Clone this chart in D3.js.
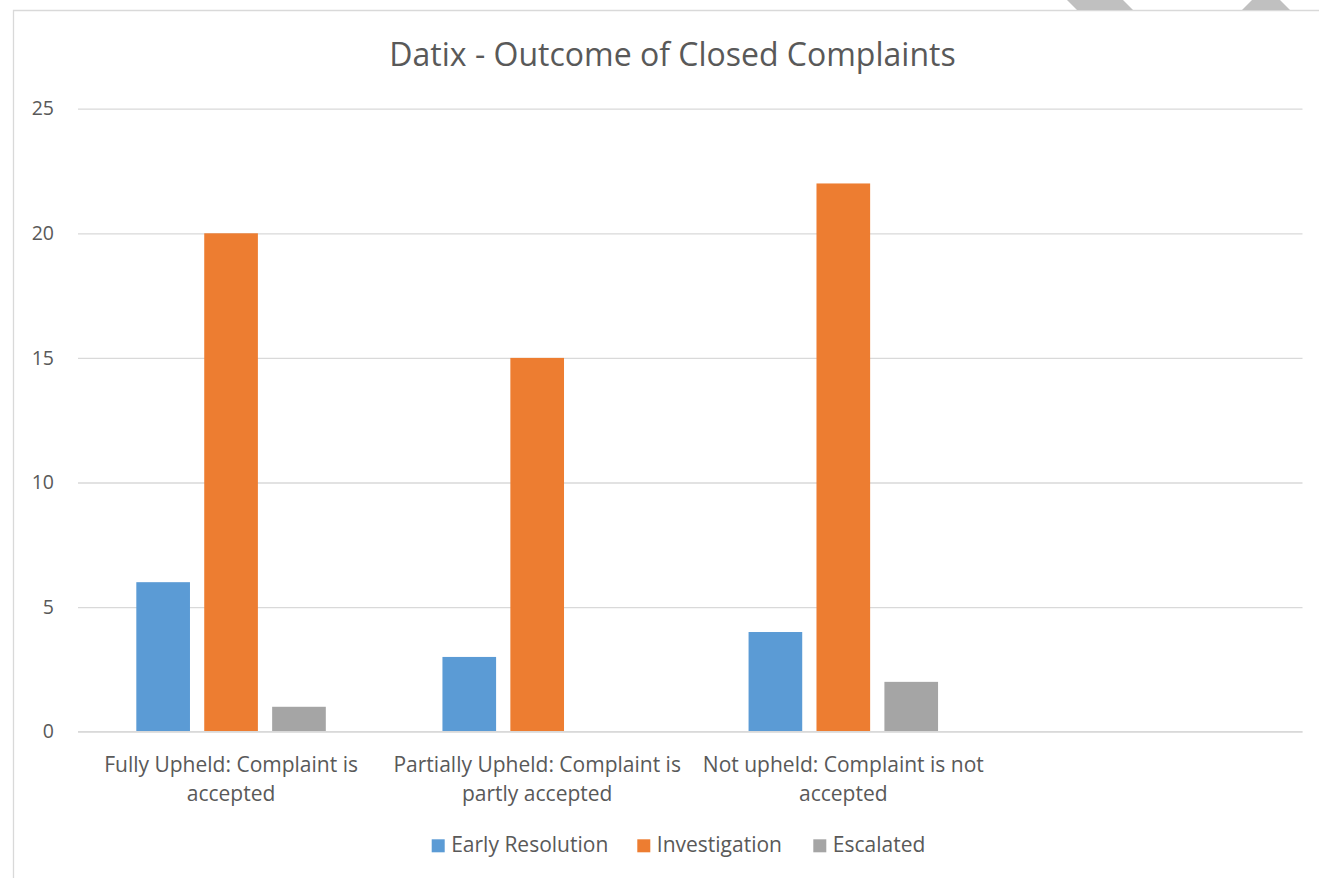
<!DOCTYPE html>
<html><head><meta charset="utf-8">
<script src="https://cdn.jsdelivr.net/npm/d3@7"></script>
<style>body{margin:0;background:#fff;} svg{display:block;}</style>
</head><body>
<svg id="chart" width="1319" height="878"></svg>
<script>
const categories = ["Fully Upheld: Complaint is accepted", "Partially Upheld: Complaint is partly accepted", "Not upheld: Complaint is not accepted", ""];
const seriesNames = ["Early Resolution", "Investigation", "Escalated"];
const earlyResolution = [6, 3, 4, null];
const investigation = [20, 15, 22, null];
const escalated = [1, 0, 2, null];
const yTicks = [0, 5, 10, 15, 20, 25];
const colors = ["#5B9BD5", "#ED7D31", "#A5A5A5"];
const series = [earlyResolution, investigation, escalated];

const FONT = "'Open Sans', sans-serif";
const TXT = "#595959";
const svg = d3.select("#chart");
const W = 1319, H = 878;
const margin = {left: 78, right: 1319 - 1302.5, top: 108.7, bottom: 878 - 731.7};

// chart frame
svg.append("path").attr("d", `M13.5,${H} L13.5,10.5 L${W},10.5`).attr("fill","none").attr("stroke","#D9D9D9").attr("stroke-width",1.3);
// page artifacts
svg.append("polygon").attr("points","1067,0 1123,0 1133,10 1077,10").attr("fill","#C0C0C0");
svg.append("polygon").attr("points","1252,0 1280,0 1290,10 1242,10").attr("fill","#C0C0C0");

const x0 = d3.scaleBand().domain(d3.range(categories.length)).range([margin.left, W - margin.right]).paddingInner(0.381).paddingOuter(0.1905);
const x1 = d3.scaleBand().domain(d3.range(seriesNames.length)).range([0, x0.bandwidth()]).paddingInner(0.21).paddingOuter(0);
const y = d3.scaleLinear().domain([0, 25]).range([H - margin.bottom, margin.top]);

// gridlines
const grid = svg.append("g").attr("transform", `translate(${margin.left},0)`)
  .call(d3.axisLeft(y).tickValues(yTicks).tickSize(-(W - margin.right - margin.left)).tickFormat(""));
grid.select(".domain").remove();
grid.selectAll("line").attr("stroke", "#D9D9D9").attr("stroke-width", 1.3);

// y labels
const yAx = svg.append("g").attr("transform", `translate(${margin.left},0)`)
  .call(d3.axisLeft(y).tickValues(yTicks).tickSize(0).tickPadding(24));
yAx.select(".domain").remove();
yAx.selectAll("text").attr("font-family", FONT).attr("font-size", 19.5).attr("fill", TXT);

// bars
const groups = svg.append("g").selectAll("g").data(categories.map((c,i)=>i)).join("g")
  .attr("transform", i => `translate(${x0(i)},0)`);
groups.selectAll("rect").data(i => series.map((s,k)=>({k, v:s[i]})).filter(d => d.v != null && d.v > 0)).join("rect")
  .attr("x", d => x1(d.k)).attr("width", x1.bandwidth())
  .attr("y", d => y(d.v)).attr("height", d => y(0) - y(d.v))
  .attr("fill", d => colors[d.k]);

// x axis line on top
svg.append("line").attr("x1", margin.left).attr("x2", W - margin.right).attr("y1", y(0)).attr("y2", y(0)).attr("stroke","#D9D9D9").attr("stroke-width",1.3);

// category labels with wrapping
const xAx = svg.append("g").attr("transform", `translate(0,${y(0)})`)
  .call(d3.axisBottom(x0).tickSize(0).tickPadding(0).tickFormat(i => categories[i]));
xAx.select(".domain").remove();
xAx.selectAll("text").attr("font-family", FONT).attr("font-size", 21).attr("fill", TXT)
  .each(function(){ wrap(d3.select(this), 300); });

function wrap(text, width) {
  const words = text.text().split(/\s+/).filter(w=>w);
  text.text(null);
  let line = [], lineNo = 0;
  let tspan = text.append("tspan").attr("x", 0).attr("y", 40);
  for (const w of words) {
    line.push(w);
    tspan.text(line.join(" "));
    if (tspan.node().getComputedTextLength() > width && line.length > 1) {
      line.pop(); tspan.text(line.join(" "));
      line = [w]; lineNo++;
      tspan = text.append("tspan").attr("x", 0).attr("y", 40 + lineNo * 29).text(w);
    }
  }
  text.attr("dy", null);
}

// title
svg.append("text").attr("x", 672.5).attr("y", 66).attr("text-anchor","middle")
  .attr("font-family", FONT).attr("font-size", 32).attr("fill", TXT)
  .text("Datix - Outcome of Closed Complaints");

// legend
const legendX = [431.7, 637.3, 813.3];
const leg = svg.append("g");
seriesNames.forEach((n, k) => {
  leg.append("rect").attr("x", legendX[k]).attr("y", 839.3).attr("width", 13).attr("height", 13).attr("fill", colors[k]);
  leg.append("text").attr("x", legendX[k] + 19.5).attr("y", 852.3).attr("font-family", FONT).attr("font-size", 21).attr("fill", TXT).text(n);
});
</script>
</body></html>
